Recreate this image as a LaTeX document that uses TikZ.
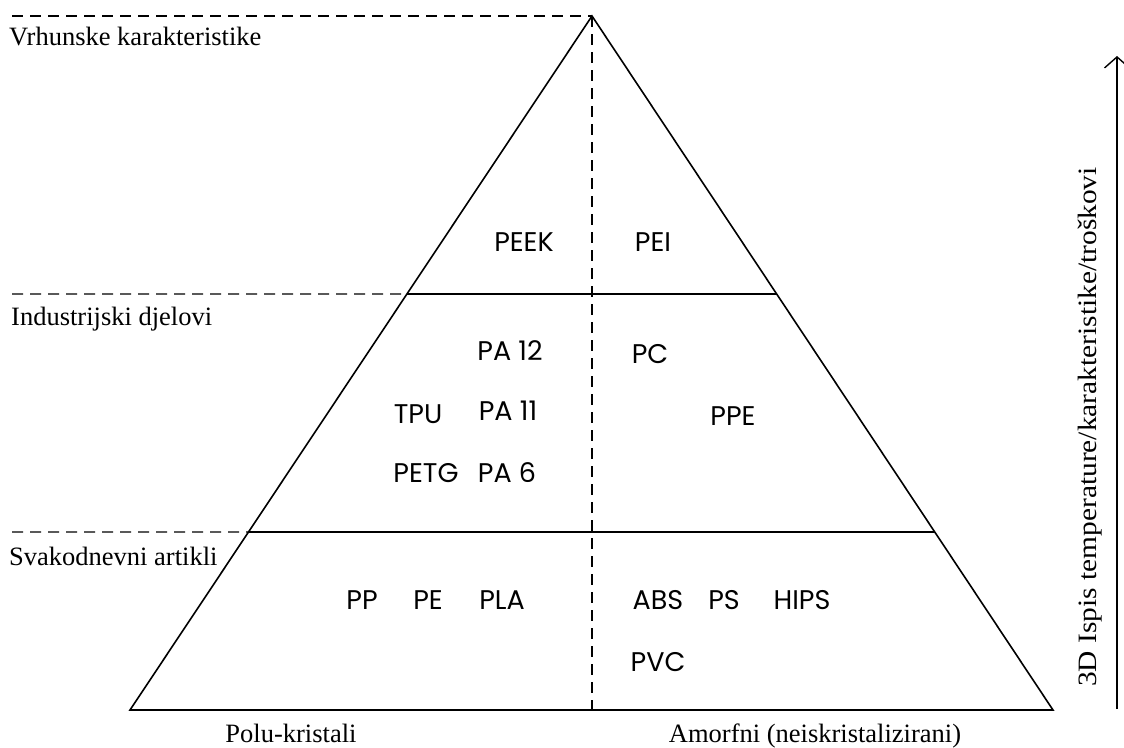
\documentclass[tikz,border=0pt]{standalone}
\usepackage{fontspec}
\setmainfont{Liberation Serif}
\newfontfamily\matfont{Poppins}
\usetikzlibrary{arrows.meta,calc}

\begin{document}
\begin{tikzpicture}[
  x=1pt,y=-1pt,
  every node/.style={inner sep=0pt},
  level/.style={anchor=base west,font=\fontsize{26.5}{30}\selectfont},
  side/.style={anchor=base,font=\fontsize{26.5}{30}\selectfont},
  mat/.style={anchor=base,font=\matfont\fontsize{27}{31}\selectfont},
  edge/.style={line width=1.6pt},
  guide/.style={line width=1.4pt,dash pattern=on 11pt off 7pt},
  axis/.style={-{Straight Barb[length=11pt,width=25pt,line width=1.4pt]},line width=1.4pt}
]
\useasboundingbox (0,0) rectangle (1124,747);
% pyramid
\coordinate (apex) at (592,16);
\coordinate (bl) at (130,710);
\coordinate (br) at (1053,710);
\coordinate (mid) at (592,710);
\coordinate (l1) at ($(apex)!0.4006!(bl)$);
\coordinate (r1) at ($(apex)!0.4006!(br)$);
\coordinate (l2) at ($(apex)!0.7435!(bl)$);
\coordinate (r2) at ($(apex)!0.7435!(br)$);
\coordinate (d0) at (12,16);
\coordinate (d1) at (12,294);
\coordinate (d2) at (12,532);

\draw[edge] (apex) -- (bl) -- (br) -- cycle;
\draw[edge] (l1) -- (r1);
\draw[edge] (l2) -- (r2);
\draw[guide] (apex) -- (mid);
\draw[guide] (d0) -- (apex);
\draw[guide] (d1) -- (l1);
\draw[guide] (d2) -- (l2);

% levels
\node[level] (top) at (9,45) {Vrhunske karakteristike};
\node[level] (ind) at (11,325) {Industrijski djelovi};
\node[level] (day) at (9,565) {Svakodnevni artikli};
\node[side] (semi) at (291,742) {Polu-kristali};
\node[side] (amor) at (815,742) {Amorfni (neiskristalizirani)};

% materials
\node[mat] (peek) at (524,251) {PEEK};
\node[mat] (pei) at (653,251) {PEI};
\node[mat] (pa12) at (510,360) {PA 12};
\node[mat] (pc) at (650,363) {PC};
\node[mat] (tpu) at (418,423) {TPU};
\node[mat] (pa11) at (508,420) {PA 11};
\node[mat] (ppe) at (733,425) {PPE};
\node[mat] (petg) at (426,482) {PETG};
\node[mat] (pa6) at (507,482) {PA 6};
\node[mat] (pp) at (362,609) {PP};
\node[mat] (pe) at (428,609) {PE};
\node[mat] (pla) at (502,609) {PLA};
\node[mat] (abs) at (658,609) {ABS};
\node[mat] (ps) at (724,609) {PS};
\node[mat] (hips) at (802,609) {HIPS};
\node[mat] (pvc) at (658,671) {PVC};

% axis
\coordinate (ax0) at (1117,709);
\coordinate (ax1) at (1117,56);
\draw[axis] (ax0) -- (ax1);
\node[anchor=base,rotate=90,xscale=1.11,font=\fontsize{26.5}{30}\selectfont] (axl) at (1096,427) {3D Ispis temperature/karakteristike/troškovi};
\end{tikzpicture}
\end{document}
